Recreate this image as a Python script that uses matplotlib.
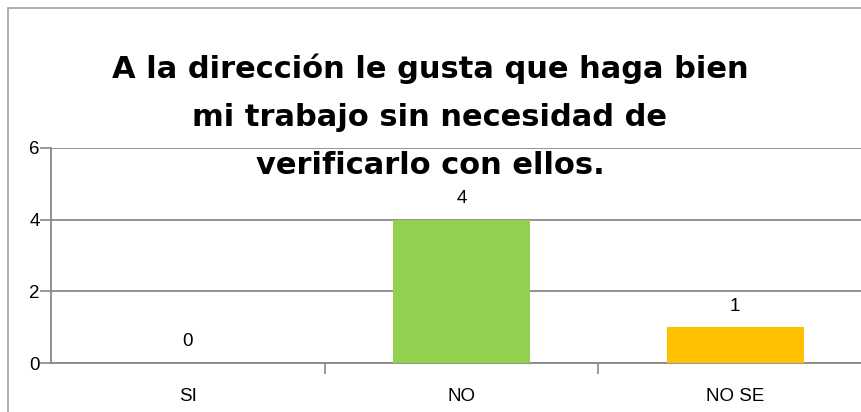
import matplotlib.pyplot as plt
from matplotlib.patches import Rectangle

categories = ["SI", "NO", "NO SE"]
values = [0, 4, 1]
colors = ["#4F81BD", "#92D050", "#FFC000"]
yticks = [0, 2, 4, 6]
title = "A la dirección le gusta que haga bien\nmi trabajo sin necesidad de\nverificarlo con ellos."

grid_color = "#898989"
label_font = "Liberation Sans"

fig = plt.figure(figsize=(8.62, 4.12), dpi=100)
fig.patches.append(Rectangle((8 / 862, -0.1), 2, 1 - 8 / 412 + 0.1, transform=fig.transFigure,
                             fill=False, edgecolor="#A0A0A0", lw=1.2))

ax = fig.add_axes([51 / 862, 49 / 412, 821 / 862, 215 / 412])
x = range(len(categories))
ax.bar(x, values, width=0.5, color=colors, zorder=3)
for xi, v in zip(x, values):
    ax.text(xi, v + 0.35, str(v), ha="center", va="bottom", fontsize=13.5,
            family=label_font, zorder=4)

ax.set_xlim(-0.5, 2.5)
ax.set_ylim(0, 6)
ax.set_yticks(yticks)
ax.set_xticks(list(x))
ax.set_xticklabels(categories, family=label_font, fontsize=13.5)
ax.set_yticklabels([str(t) for t in yticks], family=label_font, fontsize=13.5)
ax.set_xticks([0.5, 1.5, 2.5], minor=True)
ax.tick_params(axis="x", which="major", length=0, pad=18)
ax.tick_params(axis="x", which="minor", length=8, color=grid_color, width=1.2)
ax.tick_params(axis="y", length=8, color=grid_color, width=1.2, pad=0)
ax.grid(axis="y", color=grid_color, lw=1.3, zorder=0)
for s in ["top", "right"]:
    ax.spines[s].set_visible(False)
for s in ["left", "bottom"]:
    ax.spines[s].set_color(grid_color)
    ax.spines[s].set_linewidth(1.3)
ax.set_facecolor("none")

fig.text(430 / 862, 1 - 117 / 412, title, ha="center", va="center", fontsize=22,
         fontweight="bold", family="DejaVu Sans", linespacing=1.82, zorder=5)

fig.savefig("out.png", dpi=100)
